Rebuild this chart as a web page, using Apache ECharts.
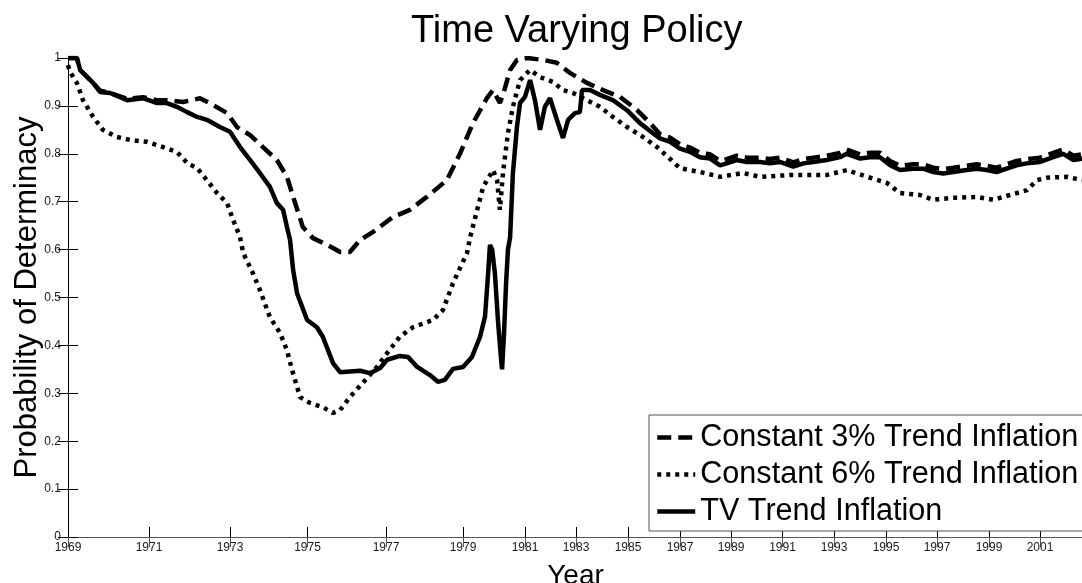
<!DOCTYPE html>
<html><head><meta charset="utf-8">
<script src="https://cdn.jsdelivr.net/npm/echarts@6/dist/echarts.min.js"></script>
<style>html,body{margin:0;padding:0;background:#fff}#c{width:1082px;height:583px}</style>
</head><body><div id="c"></div>
<script>
// Tick labels (years) and their observation-index positions on the (non-uniform) sample axis
const tickYears = [1969,1971,1973,1975,1977,1979,1981,1983,1985,1987,1989,1991,1993,1995,1997,1999,2001];
const tickIndex = [0,81,162,239.5,318,395,457,508,560,612,663,714.5,766,818,869,921,972];
const axisEndIndex = 1015;

const seriesNames = ['Constant 3% Trend Inflation','Constant 6% Trend Inflation','TV Trend Inflation'];

// Constant 3% trend inflation (dashed)
const c3Years = [1969.00,1969.22,1969.30,1969.62,1969.79,1970.04,1970.46,1970.85,1971.20,1971.44,1971.84,1972.26,1972.58,1972.93,1973.18,1973.52,1973.85,1974.21,1974.47,1974.63,1974.88,1975.14,1975.50,1975.83,1976.08,1976.34,1976.67,1977.18,1977.62,1978.06,1978.58,1978.92,1979.32,1979.77,1979.97,1980.19,1980.29,1980.52,1980.74,1981.08,1981.71,1982.25,1982.76,1983.42,1984.04,1984.69,1985.35,1985.85,
 1986.23,1986.62,1987.00,1987.39,1987.78,1988.18,1988.57,1988.83,1989.22,1989.61,1990.13,1990.51,1990.90,1991.42,1991.81,1992.20,1992.72,1993.23,1993.49,1994.00,1994.38,1994.77,1995.16,1995.55,1996.07,1996.46,1996.85,1997.24,1997.63,1998.14,1998.53,1998.91,1999.30,1999.69,2000.08,2000.48,2001.00,2001.52,2001.91,2002.31,2002.65];
const c3Vals = [1.000,1.000,0.975,0.948,0.932,0.927,0.915,0.918,0.912,0.912,0.908,0.916,0.902,0.885,0.856,0.839,0.814,0.787,0.752,0.710,0.647,0.624,0.610,0.595,0.595,0.620,0.637,0.668,0.683,0.710,0.745,0.800,0.864,0.916,0.933,0.906,0.923,0.975,0.996,1.000,0.996,0.990,0.969,0.948,0.933,0.919,0.891,0.864,
 0.841,0.834,0.820,0.813,0.802,0.799,0.785,0.789,0.796,0.792,0.792,0.789,0.792,0.782,0.789,0.792,0.796,0.802,0.809,0.799,0.802,0.802,0.785,0.775,0.778,0.778,0.771,0.768,0.771,0.775,0.778,0.775,0.771,0.778,0.785,0.789,0.792,0.802,0.809,0.796,0.799];

// Constant 6% trend inflation (dotted)
const c6Years = [1969.00,1969.05,1969.22,1969.37,1969.62,1969.86,1970.21,1970.53,1970.95,1971.35,1971.69,1971.94,1972.19,1972.43,1972.68,1972.93,1973.08,1973.26,1973.34,1973.59,1973.77,1974.03,1974.29,1974.47,1974.60,1974.81,1975.06,1975.39,1975.65,1975.83,1976.08,1976.41,1976.77,1977.03,1977.36,1977.70,1978.22,1978.48,1978.74,1979.13,1979.23,1979.65,1979.97,1980.10,1980.19,1980.29,1980.45,1980.61,1980.84,1981.20,1981.59,1982.10,1982.49,1982.88,1983.42,1983.92,1984.42,1984.96,1985.58,1986.12,
 1987.00,1987.78,1988.57,1989.47,1990.13,1991.41,1992.73,1993.50,1994.27,1995.04,1995.55,1996.33,1996.84,1997.62,1998.54,1999.16,1999.82,2000.49,2000.88,2001.27,2002.06,2002.65];
const c6Vals = [0.985,0.971,0.948,0.912,0.877,0.850,0.835,0.829,0.825,0.814,0.804,0.781,0.770,0.745,0.718,0.697,0.662,0.626,0.593,0.551,0.516,0.459,0.426,0.390,0.349,0.292,0.280,0.271,0.259,0.265,0.292,0.322,0.355,0.384,0.418,0.438,0.453,0.474,0.530,0.593,0.626,0.731,0.766,0.745,0.683,0.760,0.843,0.898,0.954,0.975,0.960,0.950,0.933,0.927,0.912,0.898,0.877,0.856,0.835,0.814,
 0.770,0.762,0.752,0.760,0.752,0.756,0.756,0.766,0.752,0.739,0.718,0.714,0.704,0.708,0.710,0.704,0.714,0.724,0.745,0.750,0.752,0.745];

// Time-varying trend inflation (solid)
const tvYears = [1969.00,1969.22,1969.30,1969.62,1969.79,1970.04,1970.46,1970.85,1971.20,1971.44,1971.69,1971.94,1972.19,1972.43,1972.75,1973.00,1973.26,1973.52,1973.77,1974.03,1974.21,1974.37,1974.47,1974.55,1974.63,1974.73,1974.99,1975.24,1975.39,1975.65,1975.83,1976.34,1976.59,1976.85,1977.03,1977.36,1977.57,1977.81,1978.14,1978.35,1978.53,1978.74,1979.00,1979.29,1979.55,1979.71,1979.81,1979.87,1979.94,1980.03,1980.13,1980.23,1980.26,1980.32,1980.39,1980.45,1980.52,1980.61,1980.74,1980.84,1981.00,1981.20,1981.39,1981.59,1981.78,1981.98,1982.25,1982.49,1982.69,1982.96,1983.15,1983.23,1983.54,1983.92,1984.42,1984.96,1985.46,1985.96,
 1986.23,1986.62,1987.00,1987.39,1987.78,1988.18,1988.57,1988.83,1989.22,1989.61,1990.13,1990.51,1990.90,1991.42,1991.81,1992.20,1992.72,1993.23,1993.49,1994.00,1994.38,1994.77,1995.16,1995.55,1996.07,1996.46,1996.85,1997.24,1997.63,1998.14,1998.53,1998.91,1999.30,1999.69,2000.08,2000.48,2001.00,2001.52,2001.91,2002.31,2002.65];
const tvVals = [1.000,1.000,0.975,0.948,0.929,0.927,0.912,0.916,0.906,0.906,0.898,0.887,0.877,0.871,0.856,0.846,0.814,0.787,0.760,0.731,0.697,0.683,0.647,0.620,0.557,0.509,0.453,0.438,0.418,0.363,0.344,0.347,0.342,0.353,0.370,0.378,0.376,0.355,0.338,0.324,0.328,0.351,0.355,0.376,0.418,0.460,0.550,0.610,0.600,0.550,0.450,0.370,0.350,0.420,0.530,0.600,0.626,0.760,0.856,0.906,0.919,0.954,0.912,0.850,0.898,0.916,0.871,0.833,0.871,0.885,0.887,0.933,0.933,0.923,0.912,0.891,0.864,0.843,
 0.832,0.825,0.811,0.804,0.793,0.790,0.776,0.780,0.787,0.783,0.783,0.780,0.783,0.773,0.780,0.783,0.787,0.793,0.800,0.790,0.793,0.793,0.776,0.766,0.769,0.769,0.762,0.759,0.762,0.766,0.769,0.766,0.762,0.769,0.776,0.780,0.783,0.793,0.800,0.787,0.790];

// map calendar year onto the sample-index axis (piecewise between labelled ticks)
function yearToIndex(y) {
  const n = tickYears.length;
  let i = 0;
  while (i < n - 2 && y > tickYears[i + 1]) i++;
  const y0 = tickYears[i], y1 = tickYears[i + 1];
  const p0 = tickIndex[i], p1 = tickIndex[i + 1];
  return p0 + (y - y0) * (p1 - p0) / (y1 - y0);
}
function pairs(years, vals) { return years.map((y, i) => [yearToIndex(y), vals[i]]); }

const FONT = 'Liberation Sans';
const chart = echarts.init(document.getElementById('c'), null, {renderer: 'canvas'});
chart.setOption({
  animation: false,
  backgroundColor: '#fff',
  title: {
    text: 'Time Varying Policy', left: 411, top: 13, padding: 0,
    textStyle: {fontSize: 38, fontWeight: 'normal', fontFamily: FONT, color: '#000'}
  },
  grid: {left: 68, right: -1, top: 58, bottom: 46, containLabel: false, outerBoundsMode: 'none'},
  legend: {
    orient: 'vertical', left: 649, top: 415,
    itemWidth: 38, itemHeight: 14, itemGap: 6,
    padding: [7, 24, 4, 6],
    borderColor: '#555', borderWidth: 1, backgroundColor: '#fff',
    itemStyle: {opacity: 0},
    lineStyle: {width: 4.5},
    textStyle: {fontSize: 30.6, fontFamily: FONT, color: '#000', lineHeight: 30},
    data: seriesNames
  },
  xAxis: [{
    type: 'value', min: 0, max: axisEndIndex, position: 'bottom',
    axisLine: {lineStyle: {color: '#000', width: 1}},
    axisTick: {inside: true, length: 10, customValues: tickIndex, lineStyle: {color: '#000'}},
    axisLabel: {
      customValues: tickIndex, margin: 5, fontSize: 12, fontFamily: FONT, color: '#1a1a1a',
      formatter: v => { const k = tickIndex.indexOf(v); return k >= 0 ? String(tickYears[k]) : ''; }
    },
    splitLine: {show: false},
    name: 'Year', nameLocation: 'middle', nameGap: 25,
    nameTextStyle: {fontSize: 28, fontFamily: FONT, color: '#000'}
  }, {
    type: 'value', min: 0, max: axisEndIndex, position: 'top',
    axisLine: {lineStyle: {color: '#555', width: 1}},
    axisTick: {inside: true, length: 10, customValues: tickIndex, lineStyle: {color: '#555'}},
    axisLabel: {show: false}, splitLine: {show: false}
  }],
  yAxis: [{
    type: 'value', min: 0, max: 1, interval: 0.1,
    axisLine: {show: true, lineStyle: {color: '#000', width: 1}},
    axisTick: {show: true, inside: true, length: 10, lineStyle: {color: '#000'}},
    axisLabel: {margin: 7, fontSize: 12, fontFamily: FONT, color: '#1a1a1a'},
    splitLine: {show: false},
    name: 'Probability of Determinacy', nameLocation: 'middle', nameGap: 25, nameRotate: 90,
    nameMoveOverlap: false,
    nameTextStyle: {fontSize: 31, fontFamily: FONT, color: '#000'}
  }, {
    type: 'value', min: 0, max: 1, interval: 0.1, position: 'right',
    axisLine: {show: true, lineStyle: {color: '#000'}},
    axisTick: {show: true, inside: true, length: 10, lineStyle: {color: '#000'}},
    axisLabel: {show: false}, splitLine: {show: false}
  }],
  series: [{
    name: seriesNames[0], type: 'line', symbol: 'none', showSymbol: false,
    data: pairs(c3Years, c3Vals),
    itemStyle: {color: '#000'},
    lineStyle: {color: '#000', width: 4.5, type: [14, 7], cap: 'butt'}
  }, {
    name: seriesNames[1], type: 'line', symbol: 'none', showSymbol: false,
    data: pairs(c6Years, c6Vals),
    itemStyle: {color: '#000'},
    lineStyle: {color: '#000', width: 4.5, type: [4, 5], cap: 'butt'}
  }, {
    name: seriesNames[2], type: 'line', symbol: 'none', showSymbol: false,
    data: pairs(tvYears, tvVals),
    itemStyle: {color: '#000'},
    lineStyle: {color: '#000', width: 4.5, type: 'solid'}
  }]
});
</script>
</body></html>
